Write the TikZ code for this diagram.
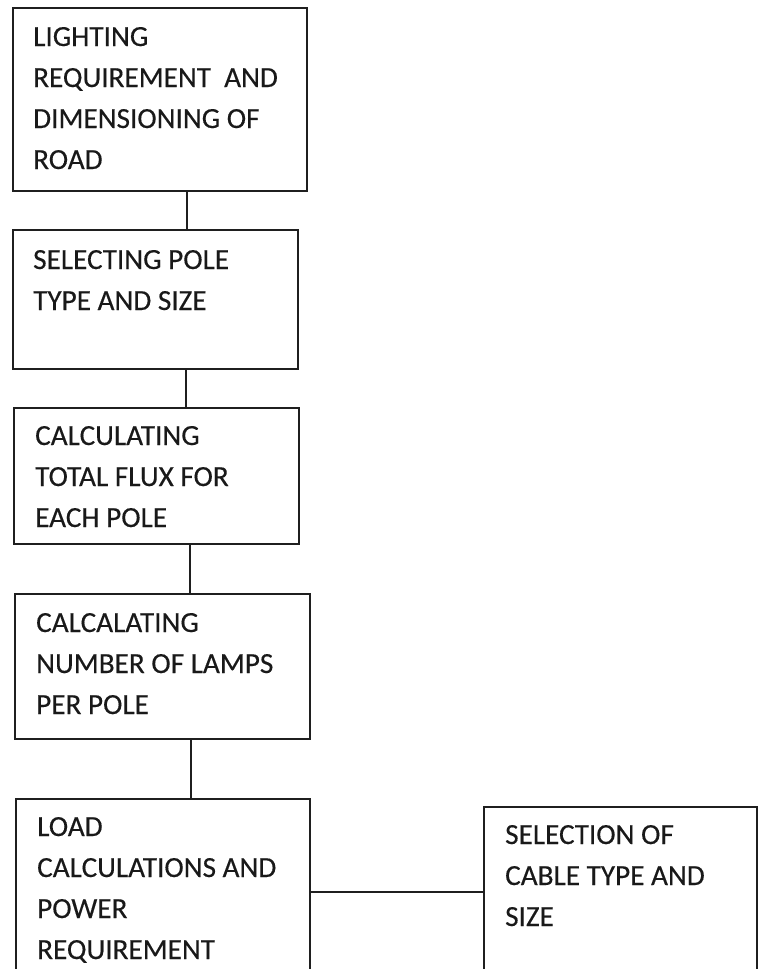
\documentclass[tikz,border=0pt]{standalone}
\usepackage{fontspec}
\setmainfont{Carlito}
\newfontfamily\boxfont{Carlito}[FakeBold=0.3]
\begin{document}
\begin{tikzpicture}[x=1pt,y=-1pt,
  box/.style={draw=black!88,line width=1.7pt,fill=none,inner sep=0pt,anchor=north west},
  conn/.style={draw=black!88,line width=1.7pt},
  txt/.style={anchor=base west,inner sep=0pt,align=left,text=black!90,
    font=\boxfont\fontsize{29.2}{41}\selectfont}]
\useasboundingbox (0,0) rectangle (758,969);
\clip (0,0) rectangle (758,969);
% boxes
\node[box,minimum width=294pt,minimum height=183pt] (b1) at (12,7) {};
\node[box,minimum width=285pt,minimum height=139pt] (b2) at (12,229) {};
\node[box,minimum width=285pt,minimum height=136pt] (b3) at (13,407) {};
\node[box,minimum width=295pt,minimum height=145pt] (b4) at (14,593) {};
\node[box,minimum width=294pt,minimum height=200pt] (b5) at (15,798) {};
\node[box,minimum width=273pt,minimum height=190pt] (b6) at (483,806) {};
% texts (anchored at the baseline of their last line)
\node[txt] (t1) at (33,169) {LIGHTING\\REQUIREMENT\ \ AND\\DIMENSIONING OF\\ROAD};
\node[txt] (t2) at (33,310) {SELECTING POLE\\TYPE AND SIZE};
\node[txt] (t3) at (35,527) {CALCULATING\\TOTAL FLUX FOR\\EACH POLE};
\node[txt] (t4) at (36,714) {CALCALATING\\NUMBER OF LAMPS\\PER POLE};
\node[txt] (t5) at (37,959) {LOAD\\CALCULATIONS AND\\POWER\\REQUIREMENT};
\node[txt] (t6) at (505,926) {SELECTION OF\\CABLE TYPE AND\\SIZE};
% connectors
\coordinate (c1) at (187,0);
\coordinate (c2) at (186,0);
\coordinate (c3) at (190,0);
\coordinate (c4) at (191,0);
\coordinate (h1) at (0,892);
\draw[conn] (c1 |- b1.south) -- (c1 |- b2.north);
\draw[conn] (c2 |- b2.south) -- (c2 |- b3.north);
\draw[conn] (c3 |- b3.south) -- (c3 |- b4.north);
\draw[conn] (c4 |- b4.south) -- (c4 |- b5.north);
\draw[conn] (b5.east |- h1) -- (b6.west |- h1);
\end{tikzpicture}
\end{document}
